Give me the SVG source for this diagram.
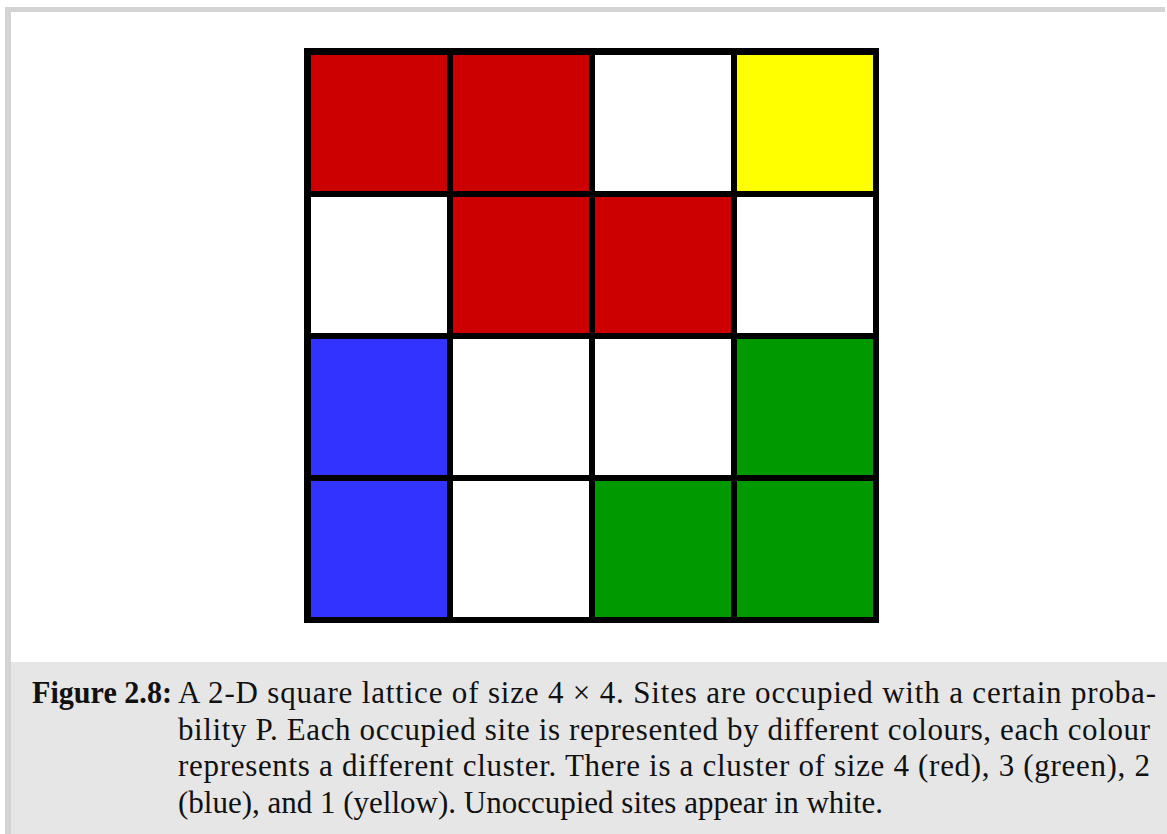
<svg xmlns="http://www.w3.org/2000/svg" width="1167" height="834" viewBox="0 0 1167 834">
<style>
.cap{font-family:"Liberation Serif","Times New Roman",serif;font-size:31px;fill:#111}
.b{font-weight:bold}
.r{fill:#cc0000}.y{fill:#ffff00}.bl{fill:#3333ff}.g{fill:#009900}.w{fill:#ffffff}
</style>
<rect x="0" y="0" width="1167" height="834" fill="#ffffff"/>
<rect x="5" y="7" width="1160" height="5" fill="#d4d4d4"/>
<rect x="5" y="7" width="6" height="827" fill="#d4d4d4"/>
<rect x="11" y="662" width="1156" height="172" fill="#e6e6e6"/>
<g id="lattice">
<rect x="304" y="48" width="575" height="575" fill="#000"/>
<g id="row1">
<rect class="r" x="311" y="55" width="136" height="136"/>
<rect class="r" x="453" y="55" width="136" height="136"/>
<rect class="w" x="595" y="55" width="136" height="136"/>
<rect class="y" x="737" y="55" width="136" height="136"/>
</g>
<g id="row2">
<rect class="w" x="311" y="197" width="136" height="136"/>
<rect class="r" x="453" y="197" width="136" height="136"/>
<rect class="r" x="595" y="197" width="136" height="136"/>
<rect class="w" x="737" y="197" width="136" height="136"/>
</g>
<g id="row3">
<rect class="bl" x="311" y="339" width="136" height="136"/>
<rect class="w" x="453" y="339" width="136" height="136"/>
<rect class="w" x="595" y="339" width="136" height="136"/>
<rect class="g" x="737" y="339" width="136" height="136"/>
</g>
<g id="row4">
<rect class="bl" x="311" y="481" width="136" height="136"/>
<rect class="w" x="453" y="481" width="136" height="136"/>
<rect class="g" x="595" y="481" width="136" height="136"/>
<rect class="g" x="737" y="481" width="136" height="136"/>
</g>
</g>
<g id="caption">
<text class="cap b" x="32" y="703" textLength="140" lengthAdjust="spacingAndGlyphs">Figure 2.8:</text>
<text class="cap" x="178" y="703" textLength="978" lengthAdjust="spacing">A 2-D square lattice of size 4 × 4.  Sites are occupied with a certain proba-</text>
<text class="cap" x="178" y="740" textLength="972" lengthAdjust="spacing">bility P.  Each occupied site is represented by different colours, each colour</text>
<text class="cap" x="178" y="776" textLength="972" lengthAdjust="spacing">represents a different cluster.  There is a cluster of size 4 (red), 3 (green), 2</text>
<text class="cap" x="178" y="813">(blue), and 1 (yellow). Unoccupied sites appear in white.</text>
</g>
</svg>
